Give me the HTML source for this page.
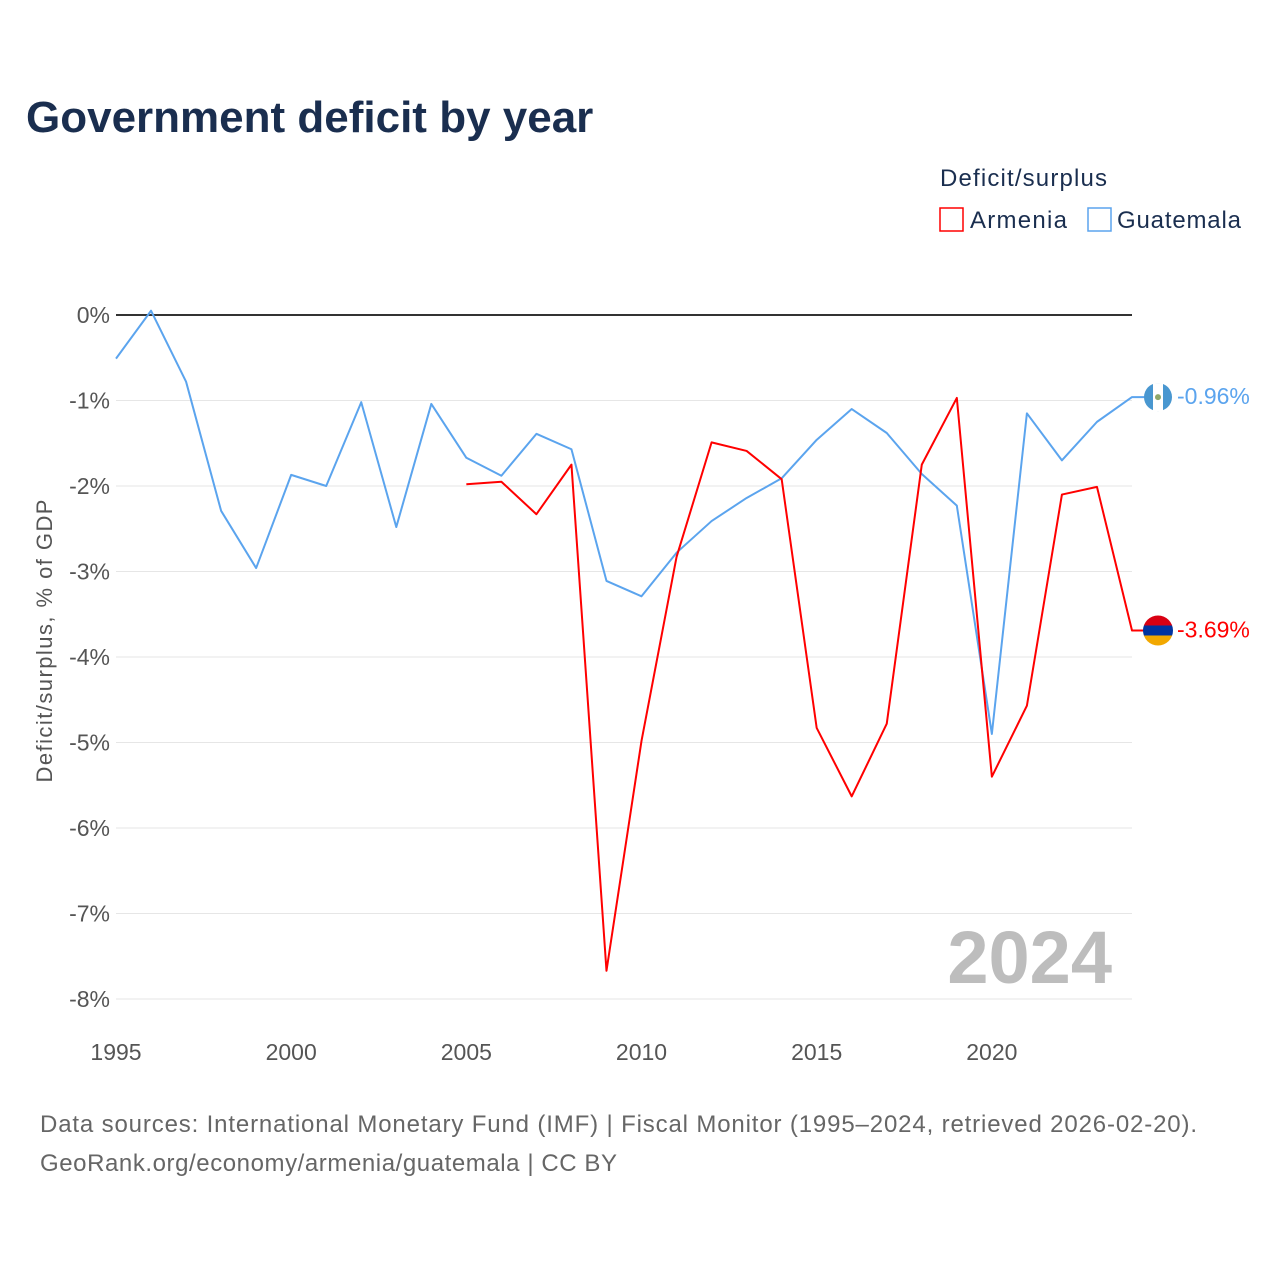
<!DOCTYPE html>
<html><head><meta charset="utf-8"><style>
body{margin:0;background:#fff;font-family:"Liberation Sans",sans-serif}
</style></head><body>
<svg width="1280" height="1280" viewBox="0 0 1280 1280">
<text x="26" y="132" font-size="44" font-weight="bold" fill="#1a2e4f">Government deficit by year</text>
<text x="940" y="186" font-size="24" fill="#1a2e4f" textLength="167">Deficit/surplus</text>
<g><rect x="940" y="208" width="23" height="23" fill="none" stroke="#ff0000" stroke-width="1.5"/><text x="970" y="228" font-size="24" fill="#1a2e4f" textLength="97">Armenia</text></g>
<g><rect x="1088" y="208" width="23" height="23" fill="none" stroke="#5ba4ee" stroke-width="1.5"/><text x="1117" y="228" font-size="24" fill="#1a2e4f" textLength="124">Guatemala</text></g>
<g id="grid"></g>
<text x="52" y="641" font-size="22" fill="#555" transform="rotate(-90 52 641)" text-anchor="middle" textLength="283">Deficit/surplus, % of GDP</text>
<text x="1112" y="983" font-size="74" font-weight="bold" fill="#bdbdbd" text-anchor="end">2024</text>
<g id="series"></g>
<text x="40" y="1132" font-size="24" fill="#666" textLength="1157">Data sources: International Monetary Fund (IMF) | Fiscal Monitor (1995–2024, retrieved 2026-02-20).</text>
<text x="40" y="1171" font-size="24" fill="#666" textLength="577">GeoRank.org/economy/armenia/guatemala | CC BY</text>
</svg>
<script>
const yTicks=[0,-1,-2,-3,-4,-5,-6,-7,-8];
const xTicks=[1995,2000,2005,2010,2015,2020];
const guatemalaYears=[1995,1996,1997,1998,1999,2000,2001,2002,2003,2004,2005,2006,2007,2008,2009,2010,2011,2012,2013,2014,2015,2016,2017,2018,2019,2020,2021,2022,2023,2024];
const guatemalaValues=[-0.51,0.05,-0.78,-2.29,-2.96,-1.87,-2.0,-1.02,-2.48,-1.04,-1.67,-1.88,-1.39,-1.57,-3.11,-3.29,-2.78,-2.41,-2.14,-1.91,-1.46,-1.10,-1.38,-1.86,-2.23,-4.90,-1.15,-1.70,-1.25,-0.96];
const armeniaYears=[2005,2006,2007,2008,2009,2010,2011,2012,2013,2014,2015,2016,2017,2018,2019,2020,2021,2022,2023,2024];
const armeniaValues=[-1.98,-1.95,-2.33,-1.75,-7.67,-4.98,-2.83,-1.49,-1.59,-1.92,-4.83,-5.63,-4.78,-1.75,-0.97,-5.40,-4.57,-2.10,-2.01,-3.69];
const NS="http://www.w3.org/2000/svg";
const X=y=>116+(y-1995)*(1132-116)/29;
const Y=v=>315-v*(999-315)/8;
function mk(t,a,p){const e=document.createElementNS(NS,t);for(const k in a)e.setAttribute(k,a[k]);p.appendChild(e);return e;}
const g=document.getElementById('grid');
yTicks.forEach(v=>{
 const l=mk('line',{x1:116,x2:1132,y1:Y(v),y2:Y(v),stroke:v===0?'#333':'#e6e6e6','stroke-width':v===0?2:1},g);
 
 
 const t=mk('text',{x:110,y:Y(v)+8,'font-size':23,fill:'#555','text-anchor':'end'},g);
 t.textContent=v+'%';
 
 
});
xTicks.forEach(y=>{
 const t=mk('text',{x:X(y),y:1060,'font-size':23,fill:'#555','text-anchor':'middle'},g);
 t.textContent=y;
 
 
});
const s=document.getElementById('series');
function line(ys,vs,col,name){
 const pts=ys.map((y,i)=>X(y)+','+Y(vs[i]));
 const last=vs[vs.length-1];
 pts.push('1150,'+Y(last));
 const p=mk('polyline',{points:pts.join(' '),fill:'none',stroke:col,'stroke-width':2,'stroke-linejoin':'round'},s);
 
 
 const t=mk('text',{x:1177,y:Y(last)+7,'font-size':23,fill:col},s);
 t.textContent=last.toFixed(2)+'%';
 
 
 return Y(last);
}
const gy=line(guatemalaYears,guatemalaValues,'#5ba4ee','guatemala');
const ay=line(armeniaYears,armeniaValues,'#ff0000','armenia');
const fg=mk('g',{},s);


mk('circle',{cx:1158,cy:gy,r:14,fill:'#4997d0'},fg);
mk('rect',{x:1153,y:gy-14,width:10,height:28,fill:'#fff'},fg);
mk('circle',{cx:1158,cy:gy,r:3,fill:'#8fa86a'},fg);
const fa=mk('g',{},s);


mk('clipPath',{id:'ac'},fa);
mk('circle',{cx:1158,cy:ay,r:15},document.getElementById('ac'));
mk('rect',{x:1143,y:ay-15,width:30,height:10,fill:'#d90012','clip-path':'url(#ac)'},fa);
mk('rect',{x:1143,y:ay-5,width:30,height:10,fill:'#0033a0','clip-path':'url(#ac)'},fa);
mk('rect',{x:1143,y:ay+5,width:30,height:10,fill:'#f2a800','clip-path':'url(#ac)'},fa);
</script>
</body></html>
